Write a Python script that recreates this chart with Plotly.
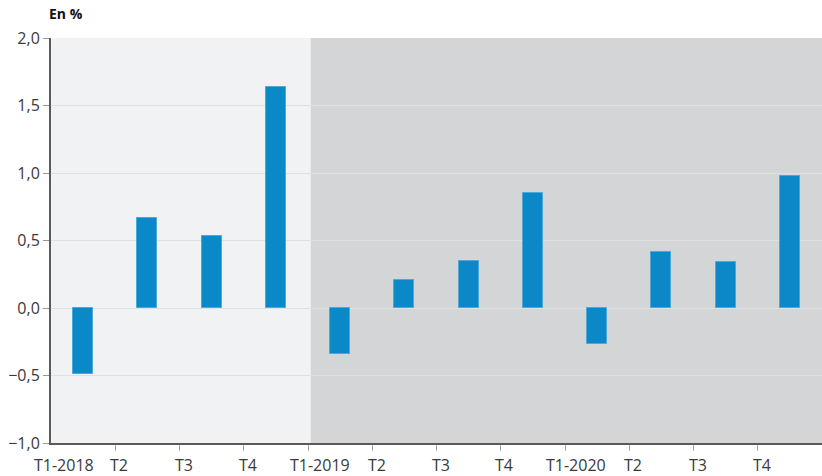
import plotly.graph_objects as go

categories = ["T1-2018", "T2", "T3", "T4", "T1-2019", "T2", "T3", "T4", "T1-2020", "T2", "T3", "T4"]
values = [-0.49, 0.67, 0.53, 1.635, -0.34, 0.21, 0.345, 0.85, -0.265, 0.415, 0.34, 0.975]
label_offsets = [0.2, 0.06, 0.07, 0.07, 0.19, 0.08, 0.07, 0.05, 0.17, 0.06, 0.07, 0.07]
y_ticks = [-1.0, -0.5, 0.0, 0.5, 1.0, 1.5, 2.0]

xpos = [i + 0.5 for i in range(len(categories))]

fig = go.Figure()
fig.add_trace(go.Bar(
    x=xpos, y=values, width=0.31,
    marker=dict(color="#0b88c8", line=dict(color="#4fa7d8", width=1)),
    hoverinfo="skip",
))

fig.add_shape(type="rect", xref="x", yref="y", x0=0, x1=4.04, y0=-1, y1=2,
              fillcolor="#f1f2f4", line_width=0, layer="below")
fig.add_shape(type="rect", xref="x", yref="y", x0=4.04, x1=12, y0=-1, y1=2,
              fillcolor="#d4d5d7", line_width=0, layer="below")

for i, lab in enumerate(categories):
    fig.add_annotation(x=i + label_offsets[i], y=0, xref="x", yref="paper",
                       text=lab, showarrow=False, yshift=-22, yanchor="middle",
                       xanchor="center",
                       font=dict(family="Open Sans", size=16, color="#3a3a3a"))

fig.add_annotation(x=0, y=1, xref="paper", yref="paper", text="<b>En %</b>",
                   showarrow=False, xanchor="left", yanchor="bottom", yshift=13,
                   xshift=-4, font=dict(family="Open Sans", size=14, color="#111111"))

fig.update_layout(
    width=822, height=476,
    margin=dict(l=51, r=0, t=38, b=33),
    paper_bgcolor="white", plot_bgcolor="white",
    showlegend=False,
    separators=", ",
    bargap=0,
    xaxis=dict(range=[0, 12], tickvals=list(range(1, 12)), showticklabels=False,
               ticks="outside", ticklen=6, tickcolor="#aaaaaa", tickwidth=1,
               showgrid=False, zeroline=False, showline=True,
               linecolor="#5a5a5a", linewidth=2, fixedrange=True),
    yaxis=dict(range=[-1, 2], tickvals=y_ticks, tickformat=".1f",
               ticks="outside", ticklen=6, tickcolor="#999999", tickwidth=1,
               showgrid=True, gridcolor="#dfe0e2", gridwidth=1,
               zeroline=False, showline=True, linecolor="#5a5a5a", linewidth=2,
               tickfont=dict(family="Open Sans", size=16, color="#3a3a3a"),
               fixedrange=True),
)

fig.write_html("out.html", config={"displayModeBar": False},
               post_script="document.body.style.margin='0';document.body.style.overflow='hidden';")
